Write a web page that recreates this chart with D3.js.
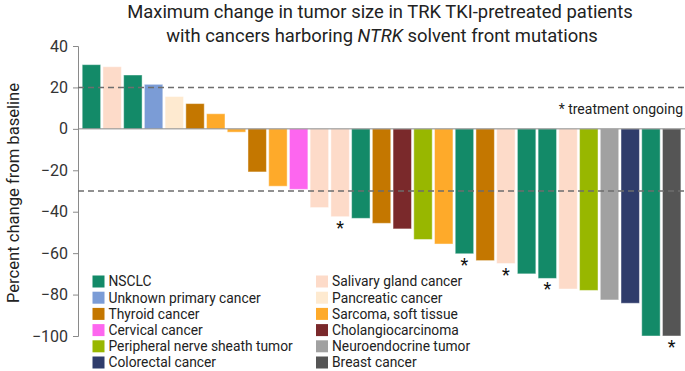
<!DOCTYPE html>
<html lang="en">
<head>
    <meta charset="UTF-8">
    <script src="https://d3js.org/d3.v7.min.js"></script>
    <title>Tumor size change</title>
    <style>
        body { margin: 0; background: #fff; }
        text { font-family: Roboto, 'Noto Sans', sans-serif; fill: #222; }
        .tick text { font-size: 16px; fill: #333; }
        .tick line, .domain { stroke: #8a8a8a; }
    </style>
</head>
<body>
<svg height="371" width="685"></svg>
<script>
    const width = 685, height = 371;

    // one entry per patient, left to right
    const cancers = ["NSCLC", "Salivary gland cancer", "NSCLC", "Unknown primary cancer", "Pancreatic cancer",
        "Thyroid cancer", "Sarcoma, soft tissue", "Sarcoma, soft tissue", "Thyroid cancer", "Sarcoma, soft tissue",
        "Cervical cancer", "Salivary gland cancer", "Salivary gland cancer", "NSCLC", "Thyroid cancer",
        "Cholangiocarcinoma", "Peripheral nerve sheath tumor", "Sarcoma, soft tissue", "NSCLC", "Thyroid cancer",
        "Salivary gland cancer", "NSCLC", "NSCLC", "Salivary gland cancer", "Peripheral nerve sheath tumor",
        "Neuroendocrine tumor", "Colorectal cancer", "NSCLC", "Breast cancer"];
    const changes = [31, 30, 26, 21.5, 15.6, 12.2, 7.3, -1.6, -20.8, -27.7,
        -29.2, -38, -42.4, -43.2, -45.6, -48.3, -53.4, -55.6, -60.3, -63.6,
        -65, -70, -72.2, -77.3, -78, -82.6, -84.2, -100, -100];
    const ongoing = [false, false, false, false, false, false, false, false, false, false,
        false, false, true, false, false, false, false, false, true, false,
        true, false, true, false, false, false, false, false, true];

    const legendCol1 = ["NSCLC", "Unknown primary cancer", "Thyroid cancer", "Cervical cancer",
        "Peripheral nerve sheath tumor", "Colorectal cancer"];
    const legendCol2 = ["Salivary gland cancer", "Pancreatic cancer", "Sarcoma, soft tissue",
        "Cholangiocarcinoma", "Neuroendocrine tumor", "Breast cancer"];
    const palette = ["#138a68", "#7b9cd6", "#c47700", "#fd66ef", "#98b700", "#2f3c6b",
        "#fddbc9", "#feead0", "#feaa2a", "#7a292b", "#a1a1a1", "#555555"];
    const yTicks = [40, 20, 0, -20, -40, -60, -80, -100];
    const refLines = [20, -30];

    const color = d3.scaleOrdinal().domain(legendCol1.concat(legendCol2)).range(palette);
    const x = d3.scaleBand().domain(d3.range(changes.length)).range([82.2, 680.9]).paddingInner(0.11).paddingOuter(0.0);
    const y = d3.scaleLinear().domain([-100, 40]).range([336, 46]);

    const svg = d3.select("svg");

    // title
    const title = svg.append("text").attr("text-anchor", "middle").style("font-size", "18.4px").style("fill", "#222");
    title.append("tspan").attr("x", 380).attr("y", 18).text("Maximum change in tumor size in TRK TKI-pretreated patients");
    const t2 = title.append("tspan").attr("x", 382).attr("y", 42);
    t2.append("tspan").text("with cancers harboring ");
    t2.append("tspan").style("font-style", "italic").text("NTRK");
    t2.append("tspan").text(" solvent front mutations");

    // y axis
    const axis = d3.axisLeft(y).tickValues(yTicks).tickSize(5).tickPadding(5)
        .tickFormat(d => d < 0 ? "\u2212" + Math.abs(d) : d);
    svg.append("g").attr("transform", "translate(78,0)").call(axis);

    svg.append("text").attr("transform", `translate(19,193) rotate(-90)`)
        .attr("text-anchor", "middle").style("font-size", "16.6px").text("Percent change from baseline");

    // bars
    svg.append("g").selectAll("rect").data(changes).enter().append("rect")
        .attr("x", (d, i) => x(i)).attr("width", x.bandwidth())
        .attr("y", d => y(Math.max(0, d))).attr("height", d => Math.abs(y(d) - y(0)))
        .style("fill", (d, i) => color(cancers[i]))
        .style("stroke", "#fff").style("stroke-opacity", 0.45).style("stroke-width", 1);

    // zero line and reference lines
    svg.append("line").attr("x1", 78).attr("x2", width).attr("y1", y(0)).attr("y2", y(0))
        .style("stroke", "#8a8a8a").style("stroke-width", 1);
    svg.append("g").selectAll("line").data(refLines).enter().append("line")
        .attr("x1", 78).attr("x2", width).attr("y1", y).attr("y2", y)
        .style("stroke", "#6e6e6e").style("stroke-width", 1.5).style("stroke-dasharray", "6,4");

    // asterisks for ongoing treatment
    svg.append("g").selectAll("text").data(changes.map((d, i) => ({d, i})).filter(o => ongoing[o.i]))
        .enter().append("text")
        .attr("x", o => x(o.i) + x.bandwidth() / 2).attr("y", o => y(o.d) + 17)
        .attr("text-anchor", "middle").style("font-size", "18px").style("fill", "#111").text("*");

    svg.append("text").attr("x", 683).attr("y", 114).attr("text-anchor", "end")
        .style("font-size", "14px").text("* treatment ongoing");

    // legend
    function drawLegend(items, x0) {
        const g = svg.append("g").attr("transform", `translate(${x0},0)`);
        const row = g.selectAll("g").data(items).enter().append("g")
            .attr("transform", (d, i) => `translate(0,${281.5 + i * 16.2})`);
        row.append("rect").attr("x", 0).attr("y", -6).attr("width", 12).attr("height", 12)
            .style("fill", d => color(d));
        row.append("text").attr("x", 16).attr("y", 4.8).style("font-size", "13.8px").text(d => d);
    }
    drawLegend(legendCol1, 92.5);
    drawLegend(legendCol2, 316);
</script>
</body>
</html>
